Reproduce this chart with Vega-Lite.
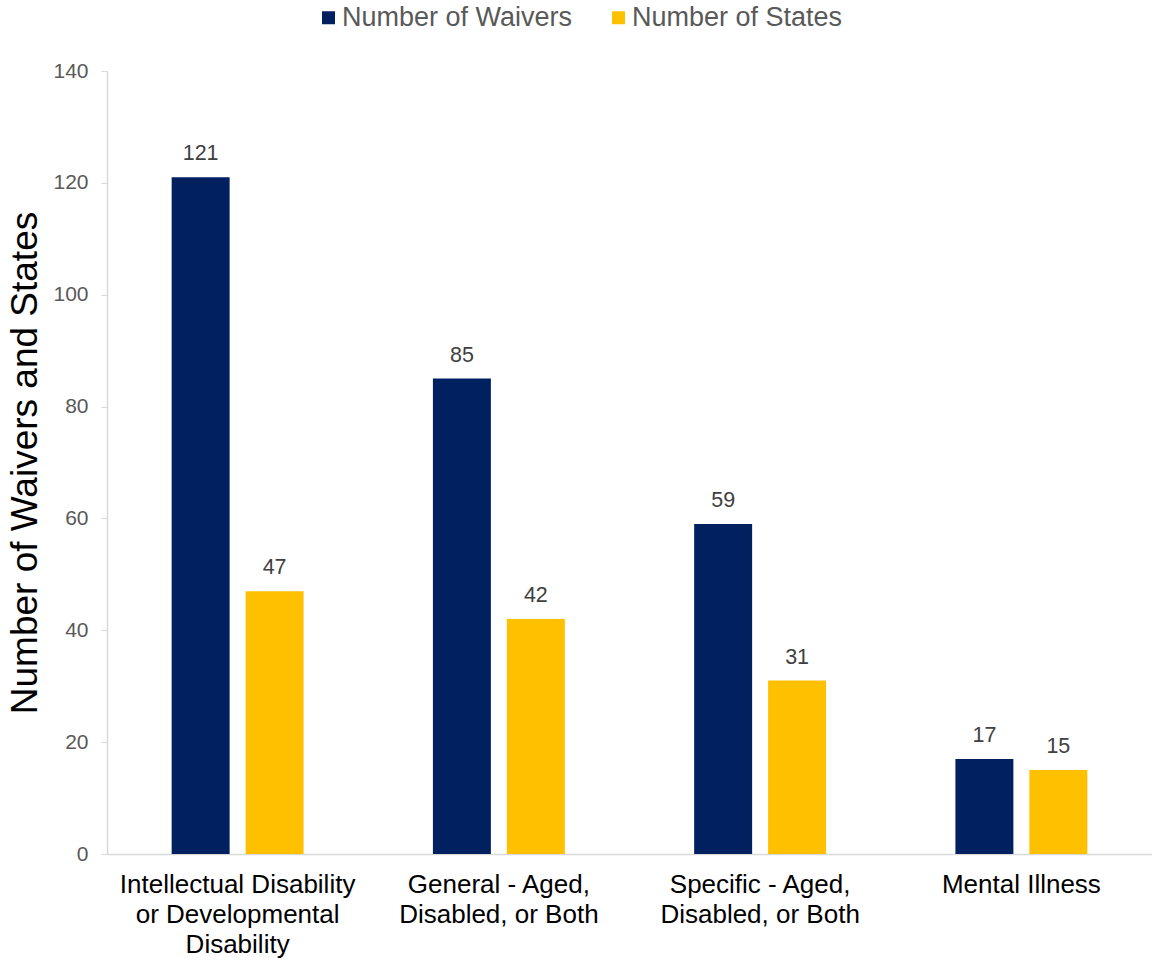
{
  "$schema": "https://vega.github.io/schema/vega-lite/v6.json",
  "width": 1045,
  "height": 783,
  "autosize": {"type": "none"},
  "padding": {"left": 107, "top": 71, "right": 0, "bottom": 113},
  "config": {
    "font": "Liberation Sans",
    "view": {"stroke": null},
    "axis": {"grid": false}
  },
  "data": {
    "values": [
      {"category": "Intellectual Disability or Developmental Disability", "series": "Number of Waivers", "value": 121},
      {"category": "Intellectual Disability or Developmental Disability", "series": "Number of States", "value": 47},
      {"category": "General - Aged, Disabled, or Both", "series": "Number of Waivers", "value": 85},
      {"category": "General - Aged, Disabled, or Both", "series": "Number of States", "value": 42},
      {"category": "Specific - Aged, Disabled, or Both", "series": "Number of Waivers", "value": 59},
      {"category": "Specific - Aged, Disabled, or Both", "series": "Number of States", "value": 31},
      {"category": "Mental Illness", "series": "Number of Waivers", "value": 17},
      {"category": "Mental Illness", "series": "Number of States", "value": 15}
    ]
  },
  "encoding": {
    "x": {
      "field": "category",
      "type": "nominal",
      "sort": null,
      "scale": {"paddingInner": 0.495, "paddingOuter": 0.2475},
      "axis": {
        "title": null,
        "labelAngle": 0,
        "labelFontSize": 26,
        "labelColor": "#000000",
        "labelLineHeight": 30,
        "labelPadding": 17,
        "labelBaseline": "top",
        "ticks": false,
        "domainColor": "#d9d9d9",
        "domainWidth": 1.5,
        "labelLimit": 400,
        "labelExpr": "datum.value == 'Intellectual Disability or Developmental Disability' ? ['Intellectual Disability', 'or Developmental', 'Disability'] : datum.value == 'General - Aged, Disabled, or Both' ? ['General - Aged,', 'Disabled, or Both'] : datum.value == 'Specific - Aged, Disabled, or Both' ? ['Specific - Aged,', 'Disabled, or Both'] : datum.value"
      }
    },
    "xOffset": {
      "field": "series",
      "type": "nominal",
      "sort": ["Number of Waivers", "Number of States"],
      "scale": {"paddingInner": 0.2162, "paddingOuter": 0}
    },
    "y": {
      "field": "value",
      "type": "quantitative",
      "scale": {"domain": [0, 140], "nice": false},
      "axis": {
        "title": "Number of Waivers and States",
        "titleFontSize": 37,
        "titleFontWeight": "normal",
        "titleColor": "#000000",
        "titlePadding": 8,
        "values": [0, 20, 40, 60, 80, 100, 120, 140],
        "labelFontSize": 21,
        "labelColor": "#595959",
        "labelPadding": 13,
        "tickSize": 6,
        "tickColor": "#d9d9d9",
        "domainColor": "#d9d9d9",
        "domainWidth": 1.5
      }
    }
  },
  "layer": [
    {
      "mark": {"type": "bar"},
      "encoding": {
        "color": {
          "field": "series",
          "type": "nominal",
          "scale": {"domain": ["Number of Waivers", "Number of States"], "range": ["#002060", "#FFC000"]},
          "legend": {
            "title": null,
            "orient": "none",
            "direction": "horizontal",
            "legendX": 208,
            "legendY": -67,
            "padding": 0,
            "symbolType": "square",
            "symbolSize": 169,
            "symbolStrokeWidth": 0,
            "labelFontSize": 27,
            "labelColor": "#595959",
            "labelOffset": 0,
            "labelLimit": 400,
            "columnPadding": 32
          }
        }
      }
    },
    {
      "mark": {"type": "text", "baseline": "bottom", "dy": -12, "fontSize": 21.5, "color": "#404040"},
      "encoding": {
        "text": {"field": "value", "type": "quantitative"}
      }
    }
  ]
}
